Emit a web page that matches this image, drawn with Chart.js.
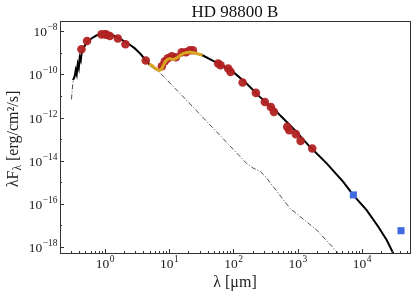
<!DOCTYPE html>
<html>
<head>
<meta charset="utf-8">
<script src="https://cdn.jsdelivr.net/npm/chart.js@4.4.0/dist/chart.umd.min.js"></script>
<style>
html, body { margin: 0; padding: 0; background: #fff; }
#wrap { width: 415px; height: 294px; }
</style>
</head>
<body>
<div id="wrap"><canvas id="sed"></canvas></div>
<script>
// total model (thick black line), wavelength in micron, lambda*F_lambda in erg/cm2/s
const modelWave = [0.321, 0.341, 0.353, 0.366, 0.380, 0.394, 0.408, 0.423, 0.438, 0.471, 0.506, 0.543, 0.628, 0.75, 0.93, 1.11, 1.33, 1.71, 2.28, 2.93, 3.64, 4.35, 5.02,
  6.0, 7.0, 8.6, 10.3, 11.6, 13.9, 16.6, 21.1, 26.8, 33.2, 48.6, 61.8, 99.6, 161, 259, 472, 857, 1560, 2840, 5150, 7380, 11900, 18070, 24400, 30900, 34100];
const modelFlux = [5.4e-11, 8.3e-11, 1.56e-10, 1.02e-10, 2.96e-10, 1.94e-10, 6.25e-10, 4.5e-10, 1.07e-9, 1.8e-9, 2.5e-9, 3.44e-9, 4.74e-9, 6.5e-9, 7.66e-9, 7.66e-9, 6.5e-9, 4.5e-9, 2.78e-9, 1.63e-9, 8.6e-10, 4.5e-10, 2.81e-10,
  1.9e-10, 1.56e-10, 3.8e-10, 5.4e-10, 4.9e-10, 6.4e-10, 9.2e-10, 1.08e-9, 9.3e-10, 7.7e-10, 4.2e-10, 2.97e-10, 1.31e-10, 3.8e-11, 9.1e-12, 1.84e-12, 3.13e-13, 4.4e-14, 7.5e-15, 1.05e-15, 2.55e-16, 5.16e-17, 8.7e-18, 2.1e-18, 5.1e-19, 2e-19];

// stellar photosphere (thin dash-dot line)
const starWave = [0.303, 0.321, 0.38, 0.45, 0.55, 0.75, 1.0, 1.33, 2.28, 3.64, 5.02, 7.01, 18.7, 55, 161, 202, 259, 322, 762, 1985, 4300, 5470];
const starFlux = [7e-12, 5.4e-11, 3e-10, 1.3e-9, 3.4e-9, 6.5e-9, 7.6e-9, 6.5e-9, 2.78e-9, 8.6e-10, 2.81e-10, 1.31e-10, 6.4e-12, 2.18e-13, 7.5e-15, 4.6e-15, 3.3e-15, 1.74e-15, 6.2e-17, 6.2e-18, 5.1e-19, 1.8e-19];

// IRS spectrum (orange)
const irsWave = [4.9, 5.5, 6.0, 6.5, 7.0, 7.5, 8.0, 8.6, 9.3, 10.3, 11.0, 11.6, 12.5, 13.9, 15.0, 16.6, 18.5, 21.1, 24.0, 26.8, 30.0, 33.2];
const irsFlux = [3.0e-10, 2.5e-10, 2.0e-10, 1.7e-10, 1.55e-10, 1.65e-10, 2.3e-10, 3.6e-10, 4.8e-10, 5.4e-10, 5.1e-10, 4.9e-10, 5.3e-10, 6.4e-10, 7.8e-10, 9.2e-10, 1.02e-9, 1.08e-9, 1.02e-9, 9.3e-10, 8.5e-10, 7.7e-10];

// photometry (red circles)
const photWave = [0.434, 0.53, 0.89, 1.0, 1.06, 1.2, 1.6, 2.1, 4.35, 7.73, 8.6, 9.58, 11.06, 12.8, 15.8, 18.3, 21.1, 23.5,
  58.2, 63.5, 83.3, 90.8, 140, 225, 310, 385, 429, 692, 743, 944, 1117, 1695];
const photFlux = [1.47e-9, 3.56e-9, 7.2e-9, 7.3e-9, 7.0e-9, 6.05e-9, 4.6e-9, 2.5e-9, 4.4e-10, 2.4e-10, 4.1e-10, 5.6e-10, 7.0e-10, 6.25e-10, 1.07e-9, 1.07e-9, 1.32e-9, 1.32e-9,
  3.2e-10, 2.67e-10, 1.87e-10, 1.31e-10, 4.2e-11, 1.39e-11, 5.3e-12, 3.1e-12, 1.84e-12, 3.7e-13, 2.6e-13, 1.7e-13, 8.3e-14, 3.7e-14];

// cm points (blue squares)
const cmWave = [7400, 40800];
const cmFlux = [2.6e-16, 5.7e-18];

const xTickValues = [1, 10, 100, 1000, 10000];
const yTickValues = [1e-8, 1e-10, 1e-12, 1e-14, 1e-16, 1e-18];

const serif = "'Liberation Serif', 'DejaVu Serif', serif";

function toPoints(xs, ys) {
    return xs.map((x, i) => ({x: x, y: ys[i]}));
}

// draws "10" with a raised exponent; align is 'center' or 'right'
function drawPower(ctx, v, x, y, align) {
    const e = Math.round(Math.log10(v));
    const base = '10';
    const exp = String(e).replace('-', '\u2212');
    ctx.font = '13.5px ' + serif;
    const wb = ctx.measureText(base).width;
    ctx.font = '9.5px ' + serif;
    const we = ctx.measureText(exp).width;
    let x0 = align == 'right' ? x - wb - we : x - (wb + we) / 2;
    ctx.textAlign = 'left';
    ctx.font = '13.5px ' + serif;
    ctx.fillText(base, x0, y);
    ctx.font = '9.5px ' + serif;
    ctx.fillText(exp, x0 + wb + 0.5, y - 6);
}

const framePlugin = {
    id: 'frame',
    afterDraw(chart) {
        const ctx = chart.ctx;
        const a = chart.chartArea;
        const xs = chart.scales.x;
        const ys = chart.scales.y;
        ctx.save();
        ctx.strokeStyle = '#333';
        ctx.lineWidth = 1;

        // x ticks pointing inwards
        ctx.beginPath();
        for (let n = -1; n <= 4; n++) {
            for (let m = 1; m <= 9; m++) {
                const v = m * Math.pow(10, n);
                if (v < xs.min || v > xs.max) continue;
                const px = Math.round(xs.getPixelForValue(v)) + 0.5;
                const len = m == 1 ? 4 : 2;
                ctx.moveTo(px, a.bottom);
                ctx.lineTo(px, a.bottom - len);
            }
        }
        // y ticks
        for (let n = -18; n <= -8; n++) {
            const py = Math.round(ys.getPixelForValue(Math.pow(10, n))) + 0.5;
            const len = n % 2 == 0 ? 4 : 2;
            ctx.moveTo(a.left, py);
            ctx.lineTo(a.left + len, py);
        }
        ctx.stroke();

        ctx.strokeRect(Math.round(a.left) + 0.5, Math.round(a.top) + 0.5, Math.round(a.right - a.left), Math.round(a.bottom - a.top));

        ctx.fillStyle = '#222';
        ctx.textBaseline = 'alphabetic';
        for (const v of xTickValues) {
            drawPower(ctx, v, xs.getPixelForValue(v), a.bottom + 15, 'center');
        }
        for (const v of yTickValues) {
            drawPower(ctx, v, a.left - 3, ys.getPixelForValue(v) + 5, 'right');
        }

        // title
        ctx.fillStyle = '#111';
        ctx.font = '17px ' + serif;
        ctx.textAlign = 'center';
        ctx.fillText('HD 98800 B', (a.left + a.right) / 2, 17);

        // y axis title with subscript lambda
        ctx.fillStyle = '#222';
        ctx.translate(18, (a.top + a.bottom) / 2 + 2);
        ctx.rotate(-Math.PI / 2);
        const bigFont = '16px ' + serif;
        const smallFont = '11.5px ' + serif;
        ctx.font = bigFont;
        const p1 = 'λF';
        const p3 = ' [erg/cm²/s]';
        const w1 = ctx.measureText(p1).width;
        const w3 = ctx.measureText(p3).width;
        ctx.font = smallFont;
        const w2 = ctx.measureText('λ').width;
        let x0 = -(w1 + w2 + w3) / 2;
        ctx.textAlign = 'left';
        ctx.font = bigFont;
        ctx.fillText(p1, x0, 0);
        ctx.font = smallFont;
        ctx.fillText('λ', x0 + w1, 3);
        ctx.font = bigFont;
        ctx.fillText(p3, x0 + w1 + w2, 0);
        ctx.restore();
    }
};

new Chart('sed', {
    type: 'scatter',
    data: {
        datasets: [
            {
                label: 'IRS',
                data: toPoints(irsWave, irsFlux),
                showLine: true,
                borderColor: '#DAA520',
                borderWidth: 3,
                pointRadius: 0,
                order: 0
            },
            {
                label: 'mm',
                data: toPoints(cmWave, cmFlux),
                pointStyle: 'rect',
                pointRadius: 5,
                backgroundColor: '#4169E1',
                borderColor: '#4169E1',
                borderWidth: 0,
                order: 1
            },
            {
                label: 'phot',
                data: toPoints(photWave, photFlux),
                pointRadius: 4.3,
                backgroundColor: 'rgba(178,34,34,0.95)',
                borderColor: 'rgba(178,34,34,0.95)',
                borderWidth: 0,
                order: 1
            },
            {
                label: 'model',
                data: toPoints(modelWave, modelFlux),
                showLine: true,
                borderColor: '#000',
                borderWidth: 2,
                pointRadius: 0,
                order: 2
            },
            {
                label: 'star',
                data: toPoints(starWave, starFlux),
                showLine: true,
                borderColor: '#222',
                borderWidth: 0.8,
                borderDash: [5, 2, 1, 2],
                pointRadius: 0,
                order: 3
            }
        ]
    },
    options: {
        responsive: true,
        maintainAspectRatio: false,
        animation: false,
        layout: { padding: { top: 21, right: 5, left: 0, bottom: 0 } },
        plugins: {
            legend: { display: false },
            tooltip: { enabled: false }
        },
        scales: {
            x: {
                type: 'logarithmic',
                min: 0.201,
                max: 56300,
                grid: { display: false, drawTicks: false },
                border: { display: false },
                afterBuildTicks: scale => { scale.ticks = xTickValues.map(v => ({value: v})); },
                afterFit: scale => { scale.height = 41; },
                ticks: { display: false },
                title: {
                    display: true,
                    text: 'λ [μm]',
                    color: '#222',
                    font: { family: serif, size: 16 },
                    padding: { top: 0, bottom: 2 }
                }
            },
            y: {
                type: 'logarithmic',
                min: 5.28e-19,
                max: 2.99e-8,
                grid: { display: false, drawTicks: false },
                border: { display: false },
                afterBuildTicks: scale => { scale.ticks = yTickValues.map(v => ({value: v})); },
                afterFit: scale => { scale.width = 60; },
                ticks: { display: false }
            }
        }
    },
    plugins: [framePlugin]
});
</script>
</body>
</html>
